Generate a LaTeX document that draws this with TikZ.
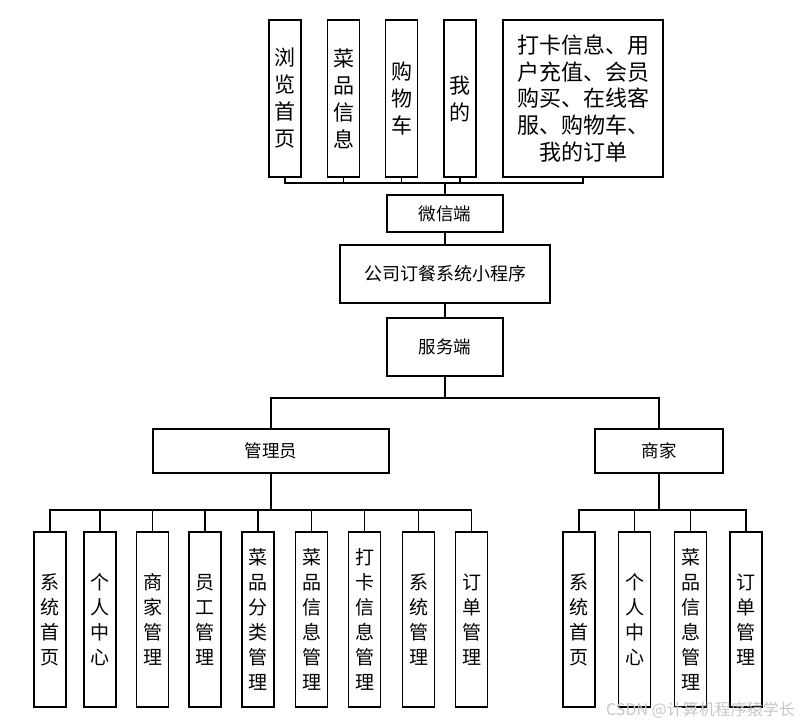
\documentclass[tikz,border=0pt]{standalone}
\usepackage{fontspec}
\setmainfont{Noto Sans CJK SC}
\usepackage{xcolor}
\usepackage{tikz}

\begin{document}
\begin{tikzpicture}[x=1pt, y=1pt,
  box/.style={draw=black, fill=white, line width=1.6pt, inner sep=0pt, align=center},
  topbox/.style={box, minimum width=32pt, minimum height=157pt, font=\fontsize{21}{27}\selectfont},
  lowbox/.style={box, minimum width=32pt, minimum height=175pt, font=\fontsize{19}{25}\selectfont},
  midbox/.style={box, font=\fontsize{17.5}{21}\selectfont},
  link/.style={line width=1.6pt}]
\useasboundingbox (0,0) rectangle (808,727);

\node[topbox] (liulan) at (285,628.5) {浏\\览\\首\\页};
\node[topbox] (caipin) at (343.5,628.5) {菜\\品\\信\\息};
\node[topbox] (gouwu) at (401.5,628.5) {购\\物\\车};
\node[topbox] (wode) at (460,628.5) {我\\的};
\node[box, minimum width=160pt, minimum height=157pt, font=\fontsize{22}{26.7}\selectfont] (gongneng) at (583,628.5)
  {打卡信息、用\\户充值、会员\\购买、在线客\\服、购物车、\\我的订单};

\node[midbox, minimum width=116pt, minimum height=37pt] (weixin) at (445,513.5) {微信端};
\node[midbox, minimum width=210pt, minimum height=58pt, font=\fontsize{18}{21}\selectfont] (xcx) at (445,453) {公司订餐系统小程序};
\node[midbox, minimum width=116pt, minimum height=58pt] (fuwu) at (445,380) {服务端};

\node[midbox, minimum width=236pt, minimum height=44pt] (admin) at (271,276) {管理员};
\node[midbox, minimum width=128pt, minimum height=44pt] (shop) at (659,276) {商家};

\node[lowbox] (a1) at (50,107.5) {系\\统\\首\\页};
\node[lowbox] (a2) at (100,107.5) {个\\人\\中\\心};
\node[lowbox] (a3) at (152.5,107.5) {商\\家\\管\\理};
\node[lowbox] (a4) at (205,107.5) {员\\工\\管\\理};
\node[lowbox] (a5) at (258,107.5) {菜\\品\\分\\类\\管\\理};
\node[lowbox] (a6) at (311.5,107.5) {菜\\品\\信\\息\\管\\理};
\node[lowbox] (a7) at (364.5,107.5) {打\\卡\\信\\息\\管\\理};
\node[lowbox] (a8) at (418.5,107.5) {系\\统\\管\\理};
\node[lowbox] (a9) at (471.5,107.5) {订\\单\\管\\理};

\node[lowbox] (s1) at (579,107.5) {系\\统\\首\\页};
\node[lowbox] (s2) at (634.5,107.5) {个\\人\\中\\心};
\node[lowbox] (s3) at (690.5,107.5) {菜\\品\\信\\息\\管\\理};
\node[lowbox] (s4) at (746,107.5) {订\\单\\管\\理};

\coordinate (bus1) at (0,544);
\coordinate (bus2) at (0,329);
\coordinate (bus3) at (0,217);

\draw[link] (liulan.south) -- (liulan.south |- bus1) -- (gongneng.south |- bus1) -- (gongneng.south);
\draw[link] (caipin.south) -- (caipin.south |- bus1);
\draw[link] (gouwu.south) -- (gouwu.south |- bus1);
\draw[link] (wode.south) -- (wode.south |- bus1);
\draw[link] (weixin.north) -- (weixin.north |- bus1);
\draw[link] (weixin.south) -- (xcx.north);
\draw[link] (xcx.south) -- (fuwu.north);

\draw[link] (fuwu.south) -- (fuwu.south |- bus2);
\draw[link] (admin.north) -- (admin.north |- bus2) -- (shop.north |- bus2) -- (shop.north);

\draw[link] (admin.south) -- (admin.south |- bus3);
\draw[link] (a1.north) -- (a1.north |- bus3) -- (a9.north |- bus3) -- (a9.north);
\draw[link] (a2.north) -- (a2.north |- bus3);
\draw[link] (a3.north) -- (a3.north |- bus3);
\draw[link] (a4.north) -- (a4.north |- bus3);
\draw[link] (a5.north) -- (a5.north |- bus3);
\draw[link] (a6.north) -- (a6.north |- bus3);
\draw[link] (a7.north) -- (a7.north |- bus3);
\draw[link] (a8.north) -- (a8.north |- bus3);

\draw[link] (shop.south) -- (shop.south |- bus3);
\draw[link] (s1.north) -- (s1.north |- bus3) -- (s4.north |- bus3) -- (s4.north);
\draw[link] (s2.north) -- (s2.north |- bus3);
\draw[link] (s3.north) -- (s3.north |- bus3);

\node[text=gray!45, font=\fontsize{16}{16}\selectfont, inner sep=0pt, anchor=east] (mark) at (795,16.5) {CSDN @计算机程序猿学长};
\end{tikzpicture}
\end{document}
